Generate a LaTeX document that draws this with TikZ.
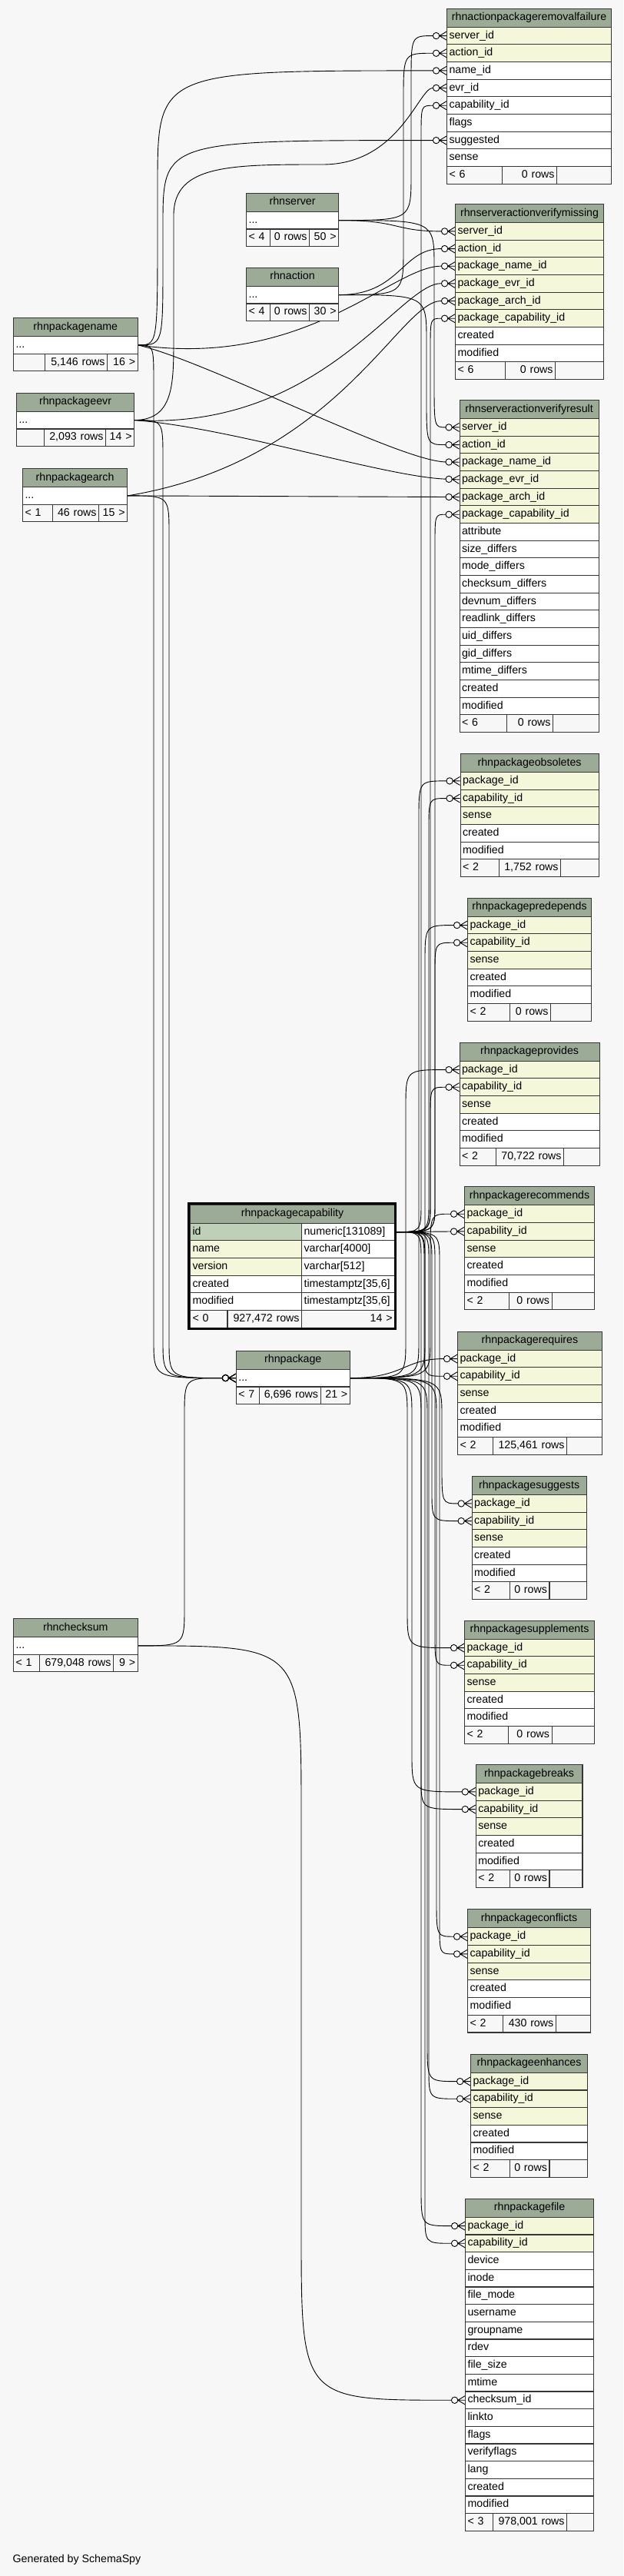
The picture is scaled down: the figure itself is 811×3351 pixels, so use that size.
\documentclass[tikz,border=0pt]{standalone}
\usepackage{fontspec}
\setmainfont{Liberation Sans}
\usetikzlibrary{calc,arrows.meta}

\definecolor{bg}{HTML}{F7F7F7}
\definecolor{hdr}{HTML}{9BAB96}
\definecolor{keyc}{HTML}{F4F7DA}
\definecolor{pkc}{HTML}{BED1B8}
\definecolor{bord}{HTML}{363636}

\pgfdeclarelayer{bgl}
\pgfdeclarelayer{edges}
\pgfsetlayers{bgl,edges,main}

\pgfdeclarearrow{
  name = crowodot,
  setup code = {
    \pgfarrowssettipend{0pt}
    \pgfarrowssetbackend{-18pt}
    \pgfarrowssetvisualbackend{-18pt}
    \pgfarrowssetlineend{-17.6pt}
    \pgfarrowsupperhullpoint{0pt}{5.5pt}
    \pgfarrowsupperhullpoint{-18pt}{5.5pt}
  },
  drawing code = {
    \pgfsetdash{}{0pt}
    \pgfsetroundjoin
    \pgfpathmoveto{\pgfqpoint{0pt}{5.5pt}}
    \pgfpathlineto{\pgfqpoint{-9.2pt}{0pt}}
    \pgfpathlineto{\pgfqpoint{0pt}{-5.5pt}}
    \pgfpathmoveto{\pgfqpoint{-9.2pt}{0pt}}
    \pgfpathlineto{\pgfqpoint{0pt}{0pt}}
    \pgfusepathqstroke
    \pgfpathcircle{\pgfqpoint{-13.4pt}{0pt}}{4.2pt}
    \pgfusepathqstroke
  }
}

\newcommand\tabfont{\fontsize{14.2pt}{16pt}\selectfont}

\tikzset{
  cellbase/.style={draw=bord, line width=1.1pt, inner xsep=3pt, inner ysep=0pt,
    text height=10.3pt, text depth=3pt, anchor=north west, font=\tabfont},
  hdrcell/.style={cellbase, fill=hdr, align=center, minimum height=24pt},
  rowcell/.style={cellbase, align=left, minimum height=22.667pt},
  fk/.style={draw=black, line width=0.9pt, arrows={-crowodot}},
}

\newcommand\tblhead[5]{%
  \pgfmathsetmacro\tblw{#3-#2}%
  \pgfmathsetmacro\tblt{#3-#2-6}%
  \node[hdrcell, minimum width=\tblw pt, text width=\tblt pt] (#1-h) at (#2,#4) {#5};%
}
\newcommand\tblrows[5]{%
  \pgfmathsetmacro\tblw{#3-#2}%
  \pgfmathsetmacro\tblt{#3-#2-6}%
  \foreach [count=\ri] \rt/\rc in {#5} {%
    \node[rowcell, fill=\rc, minimum width=\tblw pt, text width=\tblt pt] (#1-\ri) at (#2,{#4+(\ri-1)*22.667}) {\rt};%
  }%
}
\newcommand\tblone[4]{% single "..." row
  \pgfmathsetmacro\tblw{#3-#2}%
  \pgfmathsetmacro\tblt{#3-#2-6}%
  \node[rowcell, fill=white, minimum width=\tblw pt, text width=\tblt pt] (#1-1) at (#2,#4) {...};%
}
\newcommand\fcell[6]{%
  \pgfmathsetmacro\tblw{#3-#2}%
  \pgfmathsetmacro\tblt{#3-#2-6}%
  \node[rowcell, fill=bg, align=#5, minimum width=\tblw pt, text width=\tblt pt] (#1) at (#2,#4) {#6};%
}
\newcommand\tblfoot[9]{%
  \fcell{#1-fl}{#2}{#3}{#6}{left}{#7}%
  \fcell{#1-fm}{#3}{#4}{#6}{right}{#8}%
  \fcell{#1-fr}{#4}{#5}{#6}{right}{#9}%
}
\newcommand\chan[4][50]{%
  \draw[fk] let \p1=(#2), \p2=(#3),
    \n1={ifthenelse(\y2>\y1,1,-1)},
    \n2={min(#1,abs(\y2-\y1)/2)} in
    (\p1) .. controls (#4pt,\y1) .. (#4pt,{\y1+(\n1)*\n2*1pt})
    -- (#4pt,{\y2-(\n1)*\n2*1pt}) .. controls (#4pt,\y2) .. (\p2);%
}

\begin{document}
\begin{tikzpicture}[x=1pt,y=-1pt]
\useasboundingbox (0,0) rectangle (811,3351);
\begin{pgfonlayer}{bgl}
\fill[bg] (0,0) rectangle (811,3351);
\end{pgfonlayer}

% ---------------- tables ----------------
\tblhead{rfail}{581}{795}{10.7}{rhnactionpackageremovalfailure}
\tblrows{rfail}{581}{795}{34.7}{server\_id/keyc,action\_id/keyc,name\_id/white,evr\_id/white,capability\_id/white,flags/white,suggested/white,sense/white}
\tblfoot{rfail}{581}{653}{724}{795}{216.0}{< 6}{0 rows}{}

\tblhead{srv}{320}{440}{250.7}{rhnserver}
\tblone{srv}{320}{440}{274.7}
\tblfoot{srv}{320}{351}{402}{440}{297.4}{< 4}{0 rows}{50 >}

\tblhead{act}{320}{440}{347.7}{rhnaction}
\tblone{act}{320}{440}{371.7}
\tblfoot{act}{320}{351}{402}{440}{394.4}{< 4}{0 rows}{30 >}

\tblhead{vmiss}{592}{785}{265}{rhnserveractionverifymissing}
\tblrows{vmiss}{592}{785}{289}{server\_id/keyc,action\_id/keyc,package\_name\_id/keyc,package\_evr\_id/keyc,package\_arch\_id/keyc,package\_capability\_id/keyc,created/white,modified/white}
\tblfoot{vmiss}{592}{657}{722}{785}{470.3}{< 6}{0 rows}{}

\tblhead{pname}{17}{178.5}{413}{rhnpackagename}
\tblone{pname}{17}{178.5}{437}
\tblfoot{pname}{17}{58}{139}{178.5}{459.7}{}{5,146 rows}{16 >}

\tblhead{pevr}{21}{174}{510.7}{rhnpackageevr}
\tblone{pevr}{21}{174}{534.7}
\tblfoot{pevr}{21}{57}{137}{174}{557.4}{}{2,093 rows}{14 >}

\tblhead{parch}{29}{165}{609}{rhnpackagearch}
\tblone{parch}{29}{165}{633}
\tblfoot{parch}{29}{68}{128}{165}{655.7}{< 1}{46 rows}{15 >}

\tblhead{vres}{597.5}{778.6}{520}{rhnserveractionverifyresult}
\tblrows{vres}{597.5}{778.6}{544}{server\_id/keyc,action\_id/keyc,package\_name\_id/keyc,package\_evr\_id/keyc,package\_arch\_id/keyc,package\_capability\_id/keyc,attribute/white,size\_differs/white,mode\_differs/white,checksum\_differs/white,devnum\_differs/white,readlink\_differs/white,uid\_differs/white,gid\_differs/white,mtime\_differs/white,created/white,modified/white}
\tblfoot{vres}{597.5}{658.6}{719}{778.6}{929.3}{< 6}{0 rows}{}

\tblhead{obs}{598.5}{778.6}{980}{rhnpackageobsoletes}
\tblrows{obs}{598.5}{778.6}{1004}{package\_id/keyc,capability\_id/keyc,sense/keyc,created/white,modified/white}
\tblfoot{obs}{598.5}{649}{729}{778.6}{1117.3}{< 2}{1,752 rows}{}

\tblhead{pred}{608}{769}{1167.7}{rhnpackagepredepends}
\tblrows{pred}{608}{769}{1191.7}{package\_id/keyc,capability\_id/keyc,sense/keyc,created/white,modified/white}
\tblfoot{pred}{608}{663}{716}{769}{1305}{< 2}{0 rows}{}

\tblhead{prov}{597.5}{779.6}{1355.7}{rhnpackageprovides}
\tblrows{prov}{597.5}{779.6}{1379.7}{package\_id/keyc,capability\_id/keyc,sense/keyc,created/white,modified/white}
\tblfoot{prov}{597.5}{645}{733}{779.6}{1493}{< 2}{70,722 rows}{}

\tblhead{reco}{604}{773}{1543.3}{rhnpackagerecommends}
\tblrows{reco}{604}{773}{1567.3}{package\_id/keyc,capability\_id/keyc,sense/keyc,created/white,modified/white}
\tblfoot{reco}{604}{661.6}{717.5}{773}{1680.7}{< 2}{0 rows}{}

\tblhead{reqs}{595}{782.7}{1731.7}{rhnpackagerequires}
\tblrows{reqs}{595}{782.7}{1755.7}{package\_id/keyc,capability\_id/keyc,sense/keyc,created/white,modified/white}
\tblfoot{reqs}{595}{641}{737}{782.7}{1869}{< 2}{125,461 rows}{}

\tblhead{sugg}{613.6}{762.5}{1920}{rhnpackagesuggests}
\tblrows{sugg}{613.6}{762.5}{1944}{package\_id/keyc,capability\_id/keyc,sense/keyc,created/white,modified/white}
\tblfoot{sugg}{613.6}{662.7}{714.4}{762.5}{2057.3}{< 2}{0 rows}{}

\tblhead{supp}{604}{773}{2107.7}{rhnpackagesupplements}
\tblrows{supp}{604}{773}{2131.7}{package\_id/keyc,capability\_id/keyc,sense/keyc,created/white,modified/white}
\tblfoot{supp}{604}{661}{717.5}{773}{2245}{< 2}{0 rows}{}

\tblhead{brk}{618.7}{757.4}{2295}{rhnpackagebreaks}
\tblrows{brk}{618.7}{757.4}{2319}{package\_id/keyc,capability\_id/keyc,sense/keyc,created/white,modified/white}
\tblfoot{brk}{618.7}{662.7}{714.4}{757.4}{2432.3}{< 2}{0 rows}{}

\tblhead{conf}{608}{768}{2483.3}{rhnpackageconflicts}
\tblrows{conf}{608}{768}{2507.3}{package\_id/keyc,capability\_id/keyc,sense/keyc,created/white,modified/white}
\tblfoot{conf}{608}{654}{722.7}{768}{2620.7}{< 2}{430 rows}{}

\tblhead{enh}{612}{764}{2671.7}{rhnpackageenhances}
\tblrows{enh}{612}{764}{2695.7}{package\_id/keyc,capability\_id/keyc,sense/keyc,created/white,modified/white}
\tblfoot{enh}{612}{662.7}{714.4}{764}{2809}{< 2}{0 rows}{}

\tblhead{pfile}{605}{772}{2859.7}{rhnpackagefile}
\tblrows{pfile}{605}{772}{2883.7}{package\_id/keyc,capability\_id/keyc,device/white,inode/white,file\_mode/white,username/white,groupname/white,rdev/white,file\_size/white,mtime/white,checksum\_id/white,linkto/white,flags/white,verifyflags/white,lang/white,created/white,modified/white}
\tblfoot{pfile}{605}{641}{737}{772}{3269}{< 3}{978,001 rows}{}

\tblhead{cap}{247}{513}{1566.7}{rhnpackagecapability}
\tblrows{cap}{247}{392}{1590.7}{id/pkc,name/keyc,version/keyc,created/white,modified/white}
\node[rowcell, fill=white, minimum width=121pt, text width=115pt] (cap-1t) at (392,1590.7) {numeric[131089]};
\node[rowcell, fill=white, minimum width=121pt, text width=115pt] (cap-2t) at (392,1613.367) {varchar[4000]};
\node[rowcell, fill=white, minimum width=121pt, text width=115pt] (cap-3t) at (392,1636.033) {varchar[512]};
\node[rowcell, fill=white, minimum width=121pt, text width=115pt] (cap-4t) at (392,1658.7) {timestamptz[35,6]};
\node[rowcell, fill=white, minimum width=121pt, text width=115pt] (cap-5t) at (392,1681.367) {timestamptz[35,6]};
\tblfoot{cap}{247}{295.4}{392}{513}{1704}{< 0}{927,472 rows}{14 >}
\draw[line width=3pt, black] (245.4,1565.1) rectangle (514.8,1728.4);

\tblhead{pkg}{306.8}{454.7}{1756.7}{rhnpackage}
\tblone{pkg}{306.8}{454.7}{1780.7}
\tblfoot{pkg}{306.8}{336.8}{416.5}{454.7}{1803.4}{< 7}{6,696 rows}{21 >}

\tblhead{cks}{17}{178.5}{2105}{rhnchecksum}
\tblone{cks}{17}{178.5}{2129}
\tblfoot{cks}{17}{50.7}{147}{178.5}{2151.7}{< 1}{679,048 rows}{9 >}

\node[font=\tabfont, anchor=base west, inner sep=0pt] (gen) at (16.5,3333) {Generated by SchemaSpy};

% ---------------- relationships ----------------
\begin{pgfonlayer}{edges}
\chan[60]{srv-1.east}{rfail-1.west}{535}
\draw[fk] (srv-1.east) .. controls +(80,0) and +(-80,0) .. (vmiss-1.west);
\chan[60]{srv-1.east}{vres-1.west}{565}
\chan[60]{act-1.east}{rfail-2.west}{525}
\draw[fk] (act-1.east) .. controls +(80,0) and +(-70,0) .. (vmiss-2.west);
\chan[60]{act-1.east}{vres-2.west}{555}
\chan[150]{pname-1.east}{rfail-3.west}{205}
\chan[110]{pname-1.east}{rfail-7.west}{212}
\draw[fk] (pname-1.east) .. controls (400,480) and (510,346) .. (vmiss-3.west);
\draw[fk] (pname-1.east) .. controls (270,470) and (520,600) .. (vres-3.west);
\chan[50]{pname-1.east}{pkg-1.west}{200}
\draw[fk] (pevr-1.east) .. controls (226,546) and (226,500) .. (226,440) -- (226,280)
  .. controls (226,214) and (300,214) .. (420,214) .. controls (520,214) and (545,114) .. (rfail-4.west);
\draw[fk] (pevr-1.east) .. controls (420,560) and (520,368) .. (vmiss-4.west);
\draw[fk] (pevr-1.east) .. controls (300,556) and (500,620) .. (vres-4.west);
\chan[50]{pevr-1.east}{pkg-1.west}{212}
\draw[fk] (parch-1.east) .. controls (440,600) and (520,391) .. (vmiss-5.west);
\draw[fk] (parch-1.east) -- (vres-5.west);
\chan[50]{parch-1.east}{pkg-1.west}{220}
\chan[50]{cks-1.east}{pkg-1.west}{240}
\chan[220]{cks-1.east}{pfile-11.west}{392}
\chan[40]{cap-1t.east}{rfail-5.west}{548}
\chan[40]{cap-1t.east}{vmiss-6.west}{560}
\chan[40]{cap-1t.east}{vres-6.west}{566}
\chan[40]{cap-1t.east}{obs-2.west}{558}
\chan[40]{cap-1t.east}{pred-2.west}{566}
\chan[40]{cap-1t.east}{prov-2.west}{560}
\draw[fk] (cap-1t.east) -- (reco-2.west);
\chan[40]{cap-1t.east}{reqs-2.west}{552}
\chan[40]{cap-1t.east}{sugg-2.west}{562}
\chan[40]{cap-1t.east}{supp-2.west}{566}
\chan[40]{cap-1t.east}{brk-2.west}{548}
\chan[40]{cap-1t.east}{conf-2.west}{572}
\chan[40]{cap-1t.east}{enh-2.west}{558}
\chan[40]{cap-1t.east}{pfile-2.west}{553}
\chan[50]{pkg-1.east}{obs-1.west}{545}
\chan[50]{pkg-1.east}{pred-1.west}{553}
\chan[50]{pkg-1.east}{prov-1.west}{528}
\chan[50]{pkg-1.east}{reco-1.west}{560}
\draw[fk] (pkg-1.east) .. controls +(70,0) and +(-70,0) .. (reqs-1.west);
\chan[50]{pkg-1.east}{sugg-1.west}{575}
\chan[50]{pkg-1.east}{supp-1.west}{530}
\chan[50]{pkg-1.east}{brk-1.west}{536}
\chan[50]{pkg-1.east}{conf-1.west}{568}
\chan[50]{pkg-1.east}{enh-1.west}{556}
\chan[50]{pkg-1.east}{pfile-1.west}{548}
\end{pgfonlayer}
\end{tikzpicture}
\end{document}
